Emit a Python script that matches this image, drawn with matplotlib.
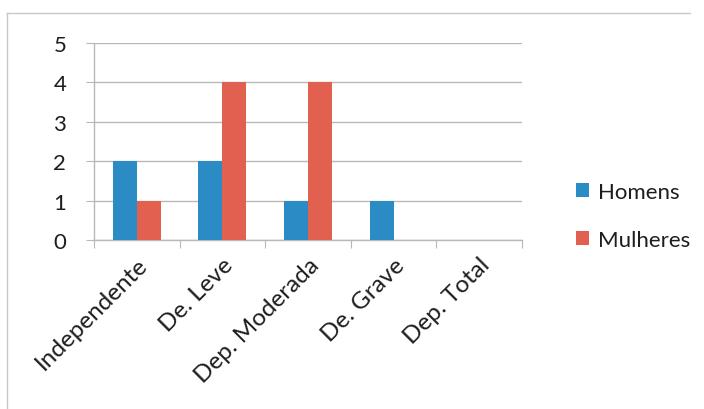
import numpy as np
import matplotlib.pyplot as plt
from matplotlib.lines import Line2D

plt.rcParams['font.family'] = ['Lato', 'DejaVu Sans']

# --- Data ---
categorias = ["Independente", "De. Leve", "Dep. Moderada", "De. Grave", "Dep. Total"]
homens = [2, 2, 1, 1, 0]
mulheres = [1, 4, 4, 0, 0]
y_ticks = [0, 1, 2, 3, 4, 5]

cor_homens = "#2b8bc4"
cor_mulheres = "#e2604f"
cor_grade = "#b8b8b8"
cor_texto = "#1e1e1e"

fig = plt.figure(figsize=(7.04, 4.10), dpi=100)
ax = fig.add_axes([0.1335, 0.4122, 0.6080, 0.4805])

x = np.arange(len(categorias))
w = 0.28
ax.bar(x - w / 2, homens, w, color=cor_homens, label="Homens", zorder=3)
ax.bar(x + w / 2, mulheres, w, color=cor_mulheres, label="Mulheres", zorder=3)

ax.set_xlim(-0.5, len(categorias) - 0.5)
ax.set_ylim(0, 5)
ax.set_yticks(y_ticks)
ax.set_yticklabels([str(v) for v in y_ticks], fontsize=16, color=cor_texto)
ax.yaxis.grid(True, color=cor_grade, linewidth=1.0, zorder=0)
ax.tick_params(axis="y", length=6, color=cor_grade, pad=14)

# category separators on x axis
ax.set_xticks(np.arange(len(categorias) + 1) - 0.5)
ax.set_xticklabels([])
ax.set_xticks(x, minor=True)
ax.set_xticklabels(categorias, minor=True, rotation=45, ha="right",
                   rotation_mode="anchor", fontsize=17.5, color=cor_texto)
ax.tick_params(axis="x", which="major", length=6, color=cor_grade, direction="out")
ax.tick_params(axis="x", which="minor", length=0, pad=10)

for side in ["top", "right"]:
    ax.spines[side].set_visible(False)
for side in ["left", "bottom"]:
    ax.spines[side].set_color(cor_grade)
    ax.spines[side].set_linewidth(1.0)

# legend
leg = fig.legend(loc="center left", bbox_to_anchor=(0.818, 0.471), frameon=False,
                 fontsize=16, handlelength=0.6, handleheight=0.6, borderpad=0,
                 borderaxespad=0, handletextpad=0.4, labelspacing=1.25)
for t in leg.get_texts():
    t.set_color(cor_texto)

# outer chart border (left and top edges)
fig.add_artist(Line2D([0.010, 0.010], [0.0, 0.966], transform=fig.transFigure,
                      color="#c8c8c8", linewidth=1.0))
fig.add_artist(Line2D([0.010, 0.980], [0.966, 0.966], transform=fig.transFigure,
                      color="#c8c8c8", linewidth=1.0))

fig.savefig("out.png", dpi=100, facecolor="white")
